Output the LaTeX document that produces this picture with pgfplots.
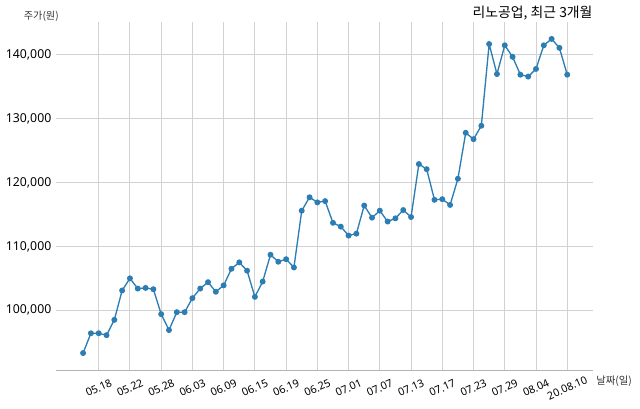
\documentclass[border=0pt]{standalone}
\usepackage{pgfplots}
\pgfplotsset{compat=1.18}
\usepackage{fontspec}
\setmainfont{Noto Sans CJK KR}
\newfontfamily\latinfont{Noto Sans}
\definecolor{serieblue}{HTML}{2C7DB4}
\definecolor{gridgray}{HTML}{D2D2D2}
\definecolor{axisgray}{HTML}{B4B4B4}
\tikzset{date label/.style={anchor=center, inner sep=0pt, rotate=24, font=\latinfont\fontsize{8}{9}\selectfont}}
\begin{document}
\begin{tikzpicture}
\begin{axis}[
  at={(0,0)}, anchor=south west,
  scale only axis, width=402.75pt, height=261.45pt,
  xmin=-3.47, xmax=65.3, ymin=90600, ymax=145200,
  axis lines*=left,
  x axis line style={draw=axisgray, line width=0.8pt},
  y axis line style={draw=none},
  major tick length=0pt,
  grid=major,
  grid style={draw=gridgray, line width=0.7pt},
  xtick={2,6,...,62},
  xticklabels={},
  ytick={100000,110000,120000,130000,140000},
  scaled y ticks=false,
  y tick label style={font=\latinfont\fontsize{9.2}{11}\selectfont},
  yticklabel={\pgfmathprintnumber[fixed, precision=0, 1000 sep={,}, assume math mode=true]{\tick}},
  xlabel={날짜(일)},
  xlabel style={at={(axis description cs:1.0056,-0.0307)}, anchor=west, inner sep=0pt, font=\fontsize{7.8}{9}\selectfont, text=black!80},
  every axis title shift=0pt,
  title={리노공업, 최근 3개월},
  title style={at={(axis description cs:0.9995,1.0241)}, anchor=east, inner sep=0pt, font=\fontsize{10.4}{12}\selectfont},
  clip=false,
]
\addplot[color=serieblue, line width=1pt, mark=*, mark size=1.7pt, mark options={fill=serieblue, draw=serieblue}] coordinates {
(0,93300) (1,96400) (2,96400) (3,96100) (4,98500) (5,103100) (6,105000) (7,103400)
(8,103500) (9,103300) (10,99400) (11,96900) (12,99700) (13,99700) (14,101900) (15,103400)
(16,104400) (17,102900) (18,103900) (19,106500) (20,107500) (21,106200) (22,102100) (23,104500)
(24,108700) (25,107600) (26,108000) (27,106700) (28,115600) (29,117700) (30,116900) (31,117100)
(32,113700) (33,113100) (34,111700) (35,112000) (36,116400) (37,114500) (38,115600) (39,113900)
(40,114400) (41,115700) (42,114600) (43,122900) (44,122100) (45,117300) (46,117400) (47,116500)
(48,120600) (49,127800) (50,126800) (51,128900) (52,141700) (53,137000) (54,141500) (55,139700)
(56,136900) (57,136600) (58,137800) (59,141500) (60,142500) (61,141100) (62,136900)
};
\node[date label] at (axis cs:2,87830) {05.18};
\node[date label] at (axis cs:6,87830) {05.22};
\node[date label] at (axis cs:10,87830) {05.28};
\node[date label] at (axis cs:14,87830) {06.03};
\node[date label] at (axis cs:18,87830) {06.09};
\node[date label] at (axis cs:22,87830) {06.15};
\node[date label] at (axis cs:26,87830) {06.19};
\node[date label] at (axis cs:30,87830) {06.25};
\node[date label] at (axis cs:34,87830) {07.01};
\node[date label] at (axis cs:38,87830) {07.07};
\node[date label] at (axis cs:42,87830) {07.13};
\node[date label] at (axis cs:46,87830) {07.17};
\node[date label] at (axis cs:50,87830) {07.23};
\node[date label] at (axis cs:54,87830) {07.29};
\node[date label] at (axis cs:58,87830) {08.04};
\node[date label] at (axis cs:62,87830) {20.08.10};
\node[anchor=east, inner sep=0pt, font=\fontsize{7.6}{9}\selectfont, text=black!80] at (axis description cs:0.0056,1.0143) {주가(원)};
\end{axis}
\pgfresetboundingbox
\useasboundingbox (-42pt,-29.025pt) rectangle (438pt,277.725pt);
\end{tikzpicture}
\end{document}
